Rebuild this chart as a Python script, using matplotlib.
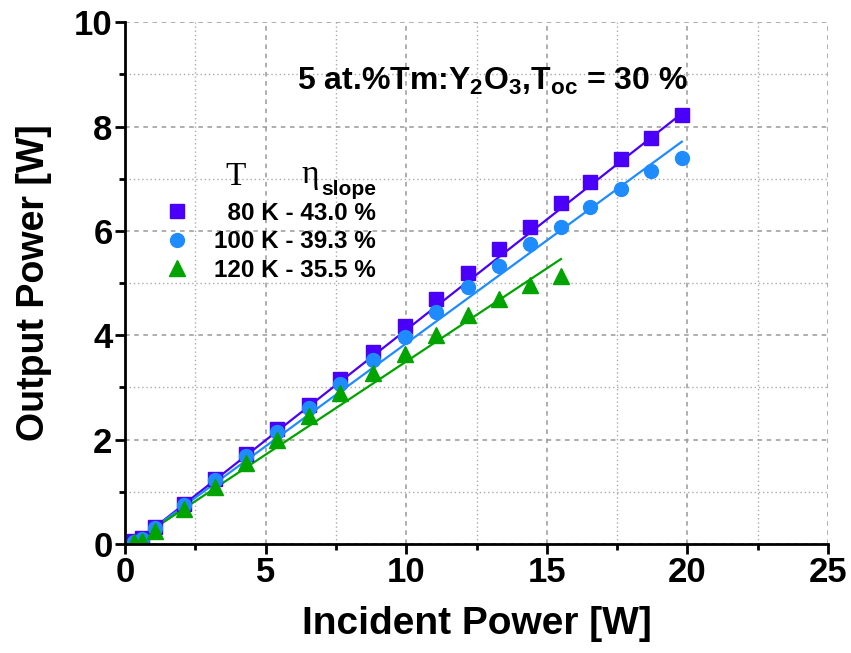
import numpy as np
import matplotlib
matplotlib.use("Agg")
import matplotlib.pyplot as plt
from matplotlib.lines import Line2D

plt.rcParams['font.family'] = ['Liberation Sans', 'DejaVu Sans']
plt.rcParams['font.weight'] = 'bold'
plt.rcParams['mathtext.fontset'] = 'custom'
plt.rcParams['mathtext.bf'] = 'Liberation Sans:bold'
plt.rcParams['mathtext.rm'] = 'Liberation Sans:bold'
plt.rcParams['mathtext.default'] = 'bf'

# incident pump power [W]
p_in = [0.3, 0.6, 1.05, 2.1, 3.2, 4.3, 5.4, 6.55, 7.65, 8.8,
        9.95, 11.05, 12.2, 13.3, 14.4, 15.5, 16.55, 17.65, 18.7, 19.8]
# output power [W]
out_80k = [0.05, 0.12, 0.32, 0.77, 1.24, 1.72, 2.2, 2.66, 3.16, 3.68,
           4.18, 4.69, 5.2, 5.65, 6.08, 6.53, 6.94, 7.37, 7.78, 8.23]
out_100k = [0.04, 0.1, 0.3, 0.75, 1.22, 1.68, 2.15, 2.6, 3.06, 3.52,
            3.97, 4.45, 4.92, 5.33, 5.75, 6.07, 6.45, 6.8, 7.15, 7.39]
out_120k = [0.03, 0.06, 0.25, 0.67, 1.1, 1.56, 2.0, 2.45, 2.9, 3.28,
            3.64, 4.0, 4.39, 4.69, 4.96, 5.13]

# linear fit end points
fit_80k_x, fit_80k_y = [0.3, 19.8], [0.0, 8.25]
fit_100k_x, fit_100k_y = [0.25, 19.8], [0.0, 7.71]
fit_120k_x, fit_120k_y = [0.2, 15.5], [0.0, 5.46]

labels = ["  80 K - 43.0 %", "100 K - 39.3 %", "120 K - 35.5 %"]
c_purple = "#4a00f8"
c_blue = "#1e8cff"
c_green = "#00a300"

fig = plt.figure(figsize=(8.51, 6.53), dpi=100)
ax = fig.add_axes([0.147, 0.167, 0.826, 0.799])

ax.plot(fit_80k_x, fit_80k_y, color=c_purple, lw=1.6)
ax.plot(fit_100k_x, fit_100k_y, color=c_blue, lw=1.6)
ax.plot(fit_120k_x, fit_120k_y, color=c_green, lw=1.6)

ax.plot(p_in, out_80k, 's', color=c_purple, ms=9.5)
ax.plot(p_in, out_100k, 'o', color=c_blue, ms=10)
ax.plot(p_in[:len(out_120k)], out_120k, '^', color=c_green, ms=11)

ax.set_xlim(0, 25)
ax.set_ylim(0, 10)
ax.set_xticks([0, 5, 10, 15, 20, 25])
ax.set_xticks([2.5, 7.5, 12.5, 17.5, 22.5], minor=True)
ax.set_yticks([0, 2, 4, 6, 8, 10])
ax.set_yticks([1, 3, 5, 7, 9], minor=True)

ax.grid(which='major', ls=(0, (3, 3)), color='#999999', lw=1.1)
ax.grid(which='minor', ls=(0, (1, 2)), color='#aaaaaa', lw=1.0)
ax.set_axisbelow(True)

for s in ['top', 'right']:
    ax.spines[s].set_visible(False)
for s in ['bottom', 'left']:
    ax.spines[s].set_linewidth(2)

ax.tick_params(which='major', direction='out', length=7, width=2, labelsize=25, pad=2)
ax.tick_params(which='minor', direction='out', length=4, width=2)
for t in ax.get_xticklabels() + ax.get_yticklabels():
    t.set_fontweight('bold')

ax.set_xlabel("Incident Power [W]", fontsize=28, fontweight='bold', labelpad=12)
ax.set_ylabel("Output Power [W]", fontsize=27, fontweight='bold', labelpad=16)

ax.text(0.522, 0.887, r"5 at.%Tm:Y$_2$O$_3$,T$_{oc}$ = 30 %", transform=ax.transAxes,
        ha='center', va='center', fontsize=23, fontweight='bold')

# legend header
ax.text(0.157, 0.703, "T", transform=ax.transAxes, ha='center', va='center',
        fontsize=24, family='Liberation Serif', fontweight='normal')
ax.text(0.263, 0.708, "η", transform=ax.transAxes, ha='center', va='center',
        fontsize=24, family='Liberation Serif', fontweight='normal')
ax.text(0.279, 0.679, "slope", transform=ax.transAxes, ha='left', va='center',
        fontsize=15, fontweight='bold')

handles = [Line2D([], [], ls='none', marker='s', color=c_purple, ms=9.5),
           Line2D([], [], ls='none', marker='o', color=c_blue, ms=10),
           Line2D([], [], ls='none', marker='^', color=c_green, ms=11)]
ax.legend(handles, labels, loc='upper left', bbox_to_anchor=(0.033, 0.688),
          frameon=False, prop={'size': 17.5, 'weight': 'bold'},
          handlelength=1.0, handletextpad=1.0, labelspacing=0.22, borderpad=0.2)

fig.savefig("out.png", dpi=100)
